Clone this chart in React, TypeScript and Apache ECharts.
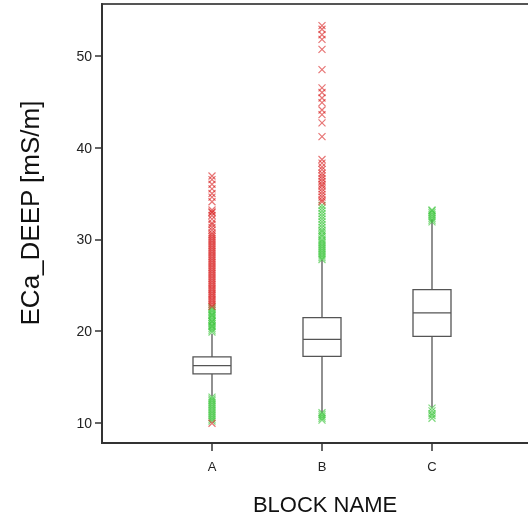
import React, { useEffect, useRef } from "react";
import * as echarts from "echarts";

// Categories (empty slots pad the axis so the plot area matches the reference)
const categories = ["", "A", "B", "C", ""];
const boxCategoryIndex = [1, 2, 3];

// Box statistics per block (A, B, C)
const boxMin = [12.9, 11.1, 11.67];
const boxQ1 = [15.34, 17.25, 19.43];
const boxMedian = [16.24, 19.1, 21.98];
const boxQ3 = [17.18, 21.47, 24.52];
const boxMax = [19.7, 27.8, 32.15];

// Outliers: green = mild, red = extreme
const aGreen = [19.9, 20.1, 20.3, 20.5, 20.6, 20.8, 21.0, 21.1, 21.3, 21.5, 21.7, 21.8, 22.0, 22.2, 22.4, 22.6,
  12.8, 12.6, 12.4, 12.2, 12.0, 11.8, 11.6, 11.4, 11.2, 11.0, 10.8, 10.6, 10.4, 10.2];
const aRed = [22.7, 22.9, 23.1, 23.3, 23.5, 23.7, 23.9, 24.1, 24.3, 24.5, 24.7, 24.9, 25.1, 25.3, 25.5, 25.7,
  25.9, 26.1, 26.3, 26.5, 26.7, 26.9, 27.1, 27.3, 27.5, 27.7, 27.9, 28.1, 28.3, 28.5, 28.7, 28.9, 29.1,
  29.3, 29.5, 29.7, 29.9, 30.1, 30.3, 30.5, 30.7, 31.0, 31.3, 31.6, 31.8, 32.2, 32.6, 32.9, 33.0, 33.2,
  34.1, 34.6, 35.0, 35.5, 36.0, 36.5, 36.9, 9.95];
const bGreen = [27.8, 28.0, 28.2, 28.4, 28.6, 28.8, 29.0, 29.2, 29.4, 29.6, 29.8, 30.0, 30.3, 30.5, 30.8,
  31.0, 31.3, 31.6, 31.9, 32.2, 32.5, 32.8, 33.1, 33.4, 33.7, 11.1, 10.9, 10.7, 10.5, 10.3];
const bRed = [34.1, 34.3, 34.6, 34.9, 35.2, 35.5, 35.8, 36.0, 36.3, 36.6, 36.9, 37.2, 37.6, 37.9, 38.3,
  38.7, 41.2, 42.7, 43.6, 44.1, 44.9, 45.4, 46.0, 46.5, 48.5, 50.7, 51.8, 52.3, 52.9, 53.3];
const cGreen = [31.9, 32.1, 32.3, 32.5, 32.7, 32.9, 33.1, 33.2, 11.6, 11.3, 11.0, 10.8, 10.5];

// Axis ticks
const yTicks = [10, 20, 30, 40, 50];
const yMin = 7.8;
const yMax = 55.65;

const CROSS = "path://M0 0L10 10M10 0L0 10";

export default function App() {
  const ref = useRef<HTMLDivElement>(null);
  useEffect(() => {
    if (!ref.current) return;
    const chart = echarts.init(ref.current, null, { renderer: "svg" });
    const boxData = boxCategoryIndex.map((c, i) => [c, boxMin[i], boxQ1[i], boxMedian[i], boxQ3[i], boxMax[i]]);
    const toPts = (idx: number, arr: number[]) => arr.map((v) => [idx, v]);
    const greenData = [...toPts(1, aGreen), ...toPts(2, bGreen), ...toPts(3, cGreen)];
    const redData = [...toPts(1, aRed), ...toPts(2, bRed)];
    const font = '"Liberation Sans", Arial, sans-serif';
    const stroke = "#555";
    chart.setOption({
      animation: false,
      grid: {
        left: 102, top: 4, width: 440, height: 439,
        outerBoundsMode: "none",
        containLabel: false,
        show: true, borderColor: "#555", borderWidth: 2, backgroundColor: "#fff",
      },
      xAxis: {
        type: "category",
        data: categories,
        boundaryGap: false,
        axisLine: { lineStyle: { color: "#333", width: 2 } },
        axisTick: { interval: (_i: number, v: string) => v !== "", length: 8, lineStyle: { color: "#333", width: 1.5 } },
        axisLabel: { interval: 0, margin: 17, fontSize: 13, color: "#222", fontFamily: font },
        splitLine: { show: false },
      },
      yAxis: {
        type: "value",
        min: yMin,
        max: yMax,
        axisLine: { show: true, lineStyle: { color: "#333", width: 2 } },
        axisTick: { show: true, customValues: yTicks, length: 7, lineStyle: { color: "#333", width: 1.5 } },
        axisLabel: { customValues: yTicks, margin: 10, fontSize: 14, color: "#222", fontFamily: font },
        splitLine: { show: false },
      },
      graphic: [
        {
          type: "text", x: 30, y: 213, rotation: Math.PI / 2,
          style: { text: "ECa_DEEP [mS/m]", font: `26px ${font}`, fill: "#111", align: "center", verticalAlign: "middle" },
        },
        {
          type: "text", x: 325, y: 504,
          style: { text: "BLOCK NAME", font: `22px ${font}`, fill: "#111", align: "center", verticalAlign: "middle" },
        },
      ],
      series: [
        {
          type: "custom",
          data: boxData,
          encode: { x: 0, y: [1, 2, 3, 4, 5] },
          z: 2,
          renderItem: (_params: any, api: any) => {
            const x = api.value(0);
            const pMin = api.coord([x, api.value(1)]);
            const pQ1 = api.coord([x, api.value(2)]);
            const pMed = api.coord([x, api.value(3)]);
            const pQ3 = api.coord([x, api.value(4)]);
            const pMax = api.coord([x, api.value(5)]);
            const hw = 19;
            const ls = { stroke, lineWidth: 1.3 };
            return {
              type: "group",
              children: [
                { type: "line", shape: { x1: pMin[0], y1: pMin[1], x2: pQ1[0], y2: pQ1[1] }, style: ls },
                { type: "line", shape: { x1: pQ3[0], y1: pQ3[1], x2: pMax[0], y2: pMax[1] }, style: ls },
                { type: "rect", shape: { x: pQ3[0] - hw, y: pQ3[1], width: 2 * hw, height: pQ1[1] - pQ3[1] }, style: { fill: "#fff", ...ls } },
                { type: "line", shape: { x1: pMed[0] - hw, y1: pMed[1], x2: pMed[0] + hw, y2: pMed[1] }, style: ls },
              ],
            };
          },
        },
        {
          type: "scatter",
          data: greenData,
          symbol: CROSS,
          symbolSize: 7,
          z: 3,
          itemStyle: { color: "rgba(55,195,55,0.8)", borderColor: "rgba(55,195,55,0.8)", borderWidth: 1.2 },
        },
        {
          type: "scatter",
          data: redData,
          symbol: CROSS,
          symbolSize: 7,
          z: 4,
          itemStyle: { color: "rgba(215,25,25,0.75)", borderColor: "rgba(215,25,25,0.75)", borderWidth: 1.2 },
        },
      ],
    });
    return () => chart.dispose();
  }, []);
  return <div ref={ref} style={{ position: "fixed", left: 0, top: 0, width: 528, height: 517 }} />;
}
